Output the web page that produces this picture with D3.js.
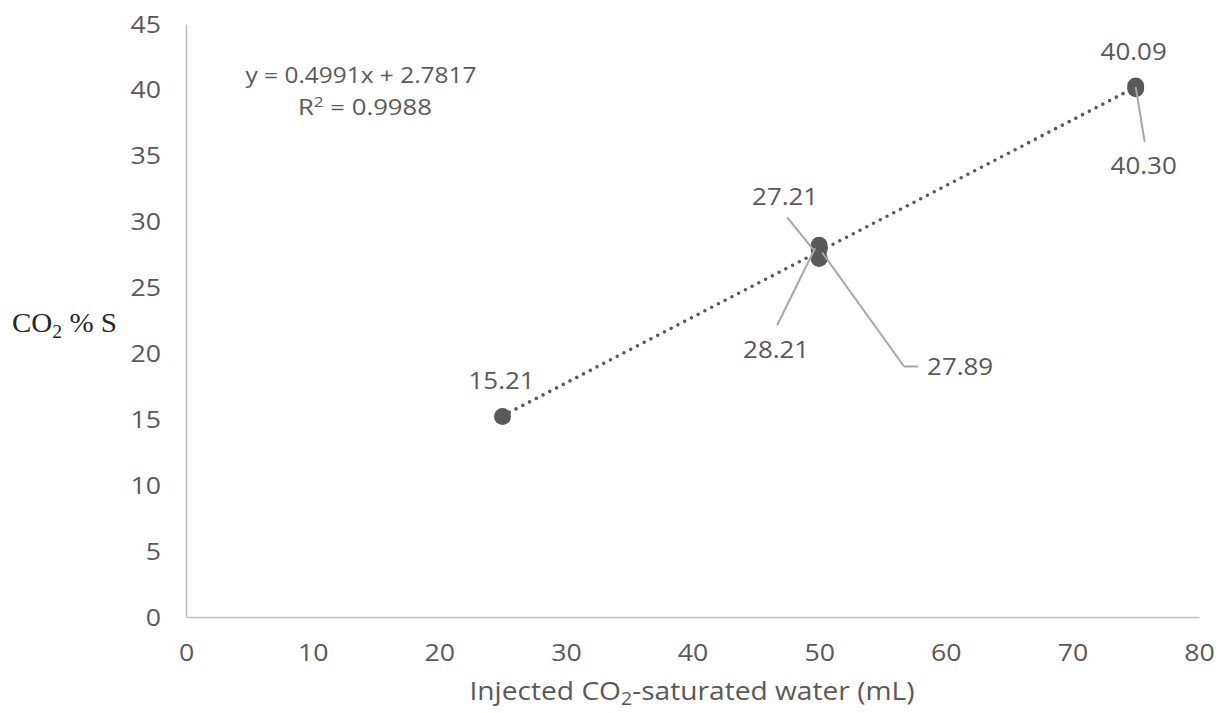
<!DOCTYPE html>
<html><head><meta charset="utf-8">
<script src="https://cdn.jsdelivr.net/npm/d3@7"></script>
<style>
html,body{margin:0;padding:0;background:#fff;}
svg{display:block;}
text{font-family:"Open Sans","Liberation Sans",sans-serif;}
</style></head><body>
<svg id="chart" width="1220" height="713"></svg>
<script>
// ---- data ----
const xValues = [25, 50, 50, 50, 75, 75];
const yValues = [15.21, 27.21, 28.21, 27.89, 40.09, 40.30];
const pointLabels = ["15.21", "27.21", "28.21", "27.89", "40.09", "40.30"];
const xTicks = [0, 10, 20, 30, 40, 50, 60, 70, 80];
const yTicks = [0, 5, 10, 15, 20, 25, 30, 35, 40, 45];
const trendSlope = 0.4991;
const trendIntercept = 2.7817;
const trendRange = [25, 75];
const equationText = "y = 0.4991x + 2.7817";
const r2Value = "0.9988";

// ---- label layout (pixel offsets from the point) ----
const labelLayout = [
  {dx: -1, dy: -28, leader: null},
  {dx: -34, dy: -53, leader: [[-32, -41], [-6, -9]]},
  {dx: -43, dy: 113, leader: [[-42, 80], [-4, 3]]},
  {dx: 141, dy: 126, leader: [[85, 117], [3, 3]], stub: [[85, 117], [99, 117]]},
  {dx: -2, dy: -29, leader: null},
  {dx: 8, dy: 88, leader: [[9, 56], [0, 1]]}
];

const svg = d3.select("#chart");
const x = d3.scaleLinear().domain([0, 80]).range([186, 1199]);
const y = d3.scaleLinear().domain([0, 45]).range([617, 24]);

const grey = "#595959";

function stretch(sel, f) {
  sel.each(function () {
    const L = this.getComputedTextLength();
    d3.select(this).attr("textLength", L * f).attr("lengthAdjust", "spacingAndGlyphs");
  });
}

// axes
const yAxis = svg.append("g").attr("transform", `translate(${x(0)},0)`)
  .call(d3.axisLeft(y).tickValues(yTicks).tickSize(0).tickPadding(25));
yAxis.select(".domain").attr("stroke", "#bfbfbf").attr("stroke-width", 1.6);
yAxis.selectAll("text").attr("fill", grey).style("font-size", "23px")
  .style("font-family", "'Open Sans', sans-serif").attr("dy", "0.35em");
stretch(yAxis.selectAll("text"), 1.16);

const xAxis = svg.append("g").attr("transform", `translate(0,${y(0)})`)
  .call(d3.axisBottom(x).tickValues(xTicks).tickSize(0).tickPadding(36));
xAxis.select(".domain").attr("stroke", "#bfbfbf").attr("stroke-width", 1.6);
xAxis.selectAll("text").attr("fill", grey).style("font-size", "23px")
  .style("font-family", "'Open Sans', sans-serif").attr("dy", "0.35em");
stretch(xAxis.selectAll("text"), 1.16);

// axis titles
const xt = svg.append("text").attr("x", 692).attr("y", 700)
  .attr("text-anchor", "middle").attr("fill", grey).style("font-size", "26px");
xt.append("tspan").text("Injected CO");
xt.append("tspan").text("2").style("font-size", "18px").attr("dy", 5);
xt.append("tspan").text("-saturated water (mL)").attr("dy", -5);
xt.attr("textLength", 445).attr("lengthAdjust", "spacingAndGlyphs");

const yt = svg.append("text").attr("x", 12).attr("y", 332)
  .attr("fill", "#262626").style("font-family", "'Liberation Serif', serif").style("font-size", "28px");
yt.append("tspan").text("CO");
yt.append("tspan").text("2").style("font-size", "19px").attr("dy", 6);
yt.append("tspan").text(" % S").attr("dy", -6);
yt.attr("textLength", 105).attr("lengthAdjust", "spacingAndGlyphs");

// trendline
const tl = trendRange.map(v => [x(v), y(trendSlope * v + trendIntercept)]);
svg.append("path").attr("d", d3.line()(tl))
  .attr("stroke", grey).attr("stroke-width", 3.6).attr("fill", "none")
  .attr("stroke-linecap", "round").attr("stroke-dasharray", "0 7.6");

// equation
svg.append("text").attr("x", 361).attr("y", 83).attr("text-anchor", "middle")
  .attr("fill", grey).style("font-size", "21px")
  .attr("textLength", 231).attr("lengthAdjust", "spacingAndGlyphs").text(equationText);
const r2 = svg.append("text").attr("x", 365).attr("y", 115).attr("text-anchor", "middle")
  .attr("fill", grey).style("font-size", "21px");
r2.append("tspan").text("R");
r2.append("tspan").text("2").style("font-size", "14px").attr("dy", -8);
r2.append("tspan").text(" = " + r2Value).attr("dy", 8);
r2.attr("textLength", 134).attr("lengthAdjust", "spacingAndGlyphs");

// points
const pts = xValues.map((v, i) => ({x: x(v), y: y(yValues[i]), label: pointLabels[i], lay: labelLayout[i]}));

svg.append("g").selectAll("circle").data(pts).join("circle")
  .attr("cx", d => d.x).attr("cy", d => d.y).attr("r", 8.5).attr("fill", grey);

// leaders
const lg = svg.append("g").attr("stroke", "#a6a6a6").attr("stroke-width", 2).attr("fill", "none");
pts.forEach(d => {
  [d.lay.leader, d.lay.stub].forEach(seg => {
    if (!seg) return;
    const [a, b] = seg;
    lg.append("line").attr("x1", d.x + a[0]).attr("y1", d.y + a[1]).attr("x2", d.x + b[0]).attr("y2", d.y + b[1]);
  });
});

// labels
const lab = svg.append("g").selectAll("text").data(pts).join("text")
  .attr("x", d => d.x + d.lay.dx).attr("y", d => d.y + d.lay.dy)
  .attr("text-anchor", "middle").attr("fill", grey).style("font-size", "24px")
  .text(d => d.label);
stretch(lab, 1.08);
</script>
</body></html>
